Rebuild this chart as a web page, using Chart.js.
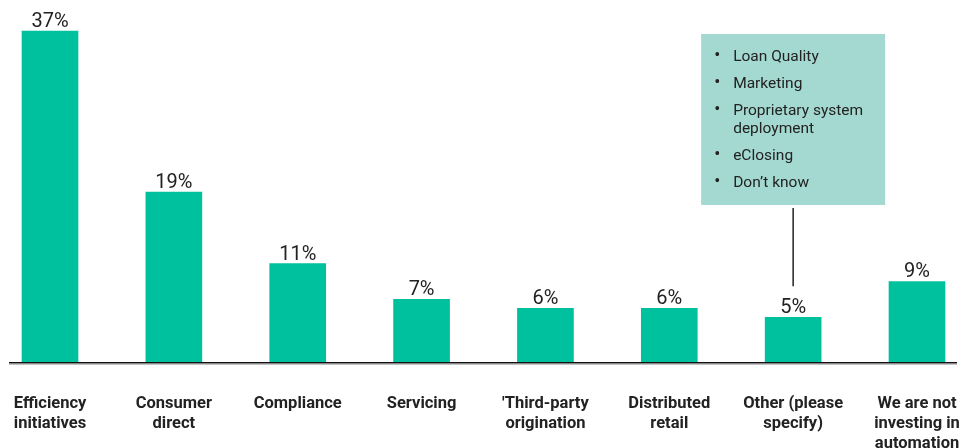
<!DOCTYPE html>
<html>
<head>
<meta charset="utf-8">
<script src="https://cdn.jsdelivr.net/npm/chart.js@4/dist/chart.umd.min.js"></script>
<style>
  html, body { margin: 0; padding: 0; background: #fff; }
  #wrap { width: 963px; height: 448px; }
</style>
</head>
<body>
<div id="wrap"><canvas id="myBarChart" width="963" height="448"></canvas></div>
<script>
// chart data
var categories = [
    ['Efficiency', 'initiatives'],
    ['Consumer', 'direct'],
    'Compliance',
    'Servicing',
    ["'Third-party", 'origination'],
    ['Distributed', 'retail'],
    ['Other (please', 'specify)'],
    ['We are not', 'investing in', 'automation']
];
var shares = [37, 19, 11, 7, 6, 6, 5, 9];
var otherItems = [
    ['Loan Quality'],
    ['Marketing'],
    ['Proprietary system', 'deployment'],
    ['eClosing'],
    ["Don\u2019t know"]
];
var otherIndex = 6;

var barColor = '#00c19d';
var boxColor = '#a3d9d1';
var textColor = '#222222';
var fontName = 'Roboto, "Liberation Sans", sans-serif';

// percent on top of each bar
var valueLabels = {
    id: 'valueLabels',
    afterDatasetsDraw: function (chart) {
        var ctx = chart.ctx;
        var meta = chart.getDatasetMeta(0);
        ctx.save();
        ctx.fillStyle = textColor;
        ctx.font = '20px ' + fontName;
        ctx.textAlign = 'center';
        ctx.textBaseline = 'alphabetic';
        meta.data.forEach(function (bar, i) {
            ctx.fillText(shares[i] + '%', bar.x, bar.y - 4);
        });
        ctx.restore();
    }
};

// baseline under the bars
var baseLine = {
    id: 'baseLine',
    afterDatasetsDraw: function (chart) {
        var ctx = chart.ctx;
        var y = chart.scales.y.getPixelForValue(0);
        ctx.save();
        ctx.fillStyle = '#111';
        ctx.fillRect(9, y, 948, 1.5);
        ctx.fillStyle = '#888';
        ctx.fillRect(9, y + 1.5, 948, 1);
        ctx.restore();
    }
};

// callout box listing "Other" answers
var otherCallout = {
    id: 'otherCallout',
    afterDatasetsDraw: function (chart) {
        var ctx = chart.ctx;
        var bar = chart.getDatasetMeta(0).data[otherIndex];
        var cx = bar.x;
        var boxW = 184, boxTop = 34, boxBottom = 205;
        var left = cx - 92;
        ctx.save();
        ctx.fillStyle = boxColor;
        ctx.fillRect(left, boxTop, boxW, boxBottom - boxTop);

        // connector line
        ctx.strokeStyle = '#222';
        ctx.lineWidth = 1.5;
        ctx.beginPath();
        ctx.moveTo(cx, boxBottom + 3);
        ctx.lineTo(cx, bar.y - 31);
        ctx.stroke();

        ctx.fillStyle = textColor;
        ctx.textAlign = 'left';
        ctx.textBaseline = 'alphabetic';
        var y = 61;
        otherItems.forEach(function (lines) {
            ctx.font = '18px ' + fontName;
            ctx.fillText('\u2022', left + 13, y);
            ctx.font = '15.5px ' + fontName;
            lines.forEach(function (line, j) {
                ctx.fillText(line, left + 32, y + j * 18);
            });
            y += 27 + (lines.length - 1) * 18;
        });
        ctx.restore();
    }
};

var ctx = document.getElementById('myBarChart');
var myChart = new Chart(ctx, {
    type: 'bar',
    data: {
        labels: categories,
        datasets: [{
            label: 'Share',
            data: shares,
            backgroundColor: barColor,
            barThickness: 56,
            clip: false
        }]
    },
    options: {
        responsive: false,
        animation: false,
        layout: {
            padding: { left: 50, right: 46, top: 31, bottom: 0 }
        },
        plugins: {
            legend: { display: false },
            tooltip: { enabled: false }
        },
        scales: {
            x: {
                offset: false,
                grid: { display: false },
                border: { display: false },
                ticks: {
                    color: textColor,
                    padding: 24,
                    autoSkip: false,
                    maxRotation: 0,
                    font: { family: fontName, size: 16.5, weight: 'bold', lineHeight: 1.2 }
                },
                afterFit: function (scale) {
                    scale.height = 86;
                    // labels may hang past the plot edges, don't let them shrink it
                    scale.paddingLeft = 0;
                    scale.paddingRight = 0;
                }
            },
            y: {
                display: false,
                min: 0,
                max: 37
            }
        }
    },
    plugins: [valueLabels, baseLine, otherCallout]
});
</script>
</body>
</html>
